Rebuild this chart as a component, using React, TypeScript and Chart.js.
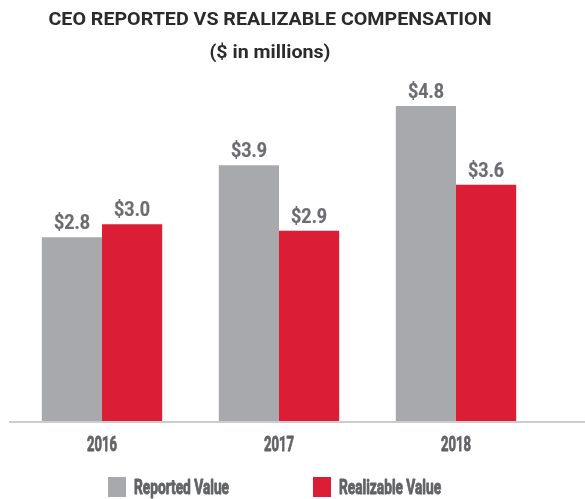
import React, { useEffect, useRef } from "react";
import { Chart, registerables } from "chart.js";

Chart.register(...registerables);

const categories = ["2016", "2017", "2018"];
const seriesNames = ["Reported Value", "Realizable Value"];
const reportedValues = [2.8, 3.9, 4.8];
const realizableValues = [3.0, 2.9, 3.6];
const titleLines = ["CEO REPORTED VS REALIZABLE COMPENSATION", "($ in millions)"];

const GREY = "#a7a9ac";
const RED = "#dc1d36";
const TEXT_GREY = "#626366";
const LABEL_GREY = "#6b6c70";
const TITLE_COLOR = "#2b2b2b";
const FAMILY = "Roboto, 'Liberation Sans', sans-serif";

// draw bold text horizontally condensed so that `refText` would be `refWidth` wide
function condensedText(
  ctx: CanvasRenderingContext2D,
  text: string,
  x: number,
  y: number,
  size: number,
  color: string,
  refText: string,
  refWidth: number,
  align: CanvasTextAlign,
  heavy = 0
) {
  ctx.save();
  ctx.font = `bold ${size}px ${FAMILY}`;
  const sx = refWidth / ctx.measureText(refText).width;
  ctx.fillStyle = color;
  ctx.strokeStyle = color;
  ctx.textBaseline = "alphabetic";
  ctx.textAlign = align;
  ctx.translate(x, y);
  ctx.scale(sx, 1);
  ctx.fillText(text, 0, 0);
  if (heavy > 0) {
    ctx.lineWidth = heavy;
    ctx.lineJoin = "round";
    ctx.strokeText(text, 0, 0);
  }
  ctx.restore();
}

const titlePlugin = {
  id: "condensedTitle",
  afterDraw(chart: any) {
    const ctx = chart.ctx;
    const cx = 270;
    condensedText(ctx, titleLines[0], cx, 25, 19, TITLE_COLOR, titleLines[0], 443, "center");
    condensedText(ctx, titleLines[1], cx, 58, 19, TITLE_COLOR, titleLines[0], 443, "center");
  },
};

const xLabelPlugin = {
  id: "condensedXLabels",
  afterDraw(chart: any) {
    const ctx = chart.ctx;
    const xs = chart.scales.x;
    const y = chart.scales.y.getPixelForValue(0) + 30;
    (chart.data.labels as string[]).forEach((lab, i) => {
      condensedText(ctx, lab, xs.getPixelForValue(i), y, 20, TEXT_GREY, "2016", 30, "center", 0.8);
    });
  },
};

const baselinePlugin = {
  id: "baseline",
  afterDatasetsDraw(chart: any) {
    const ctx = chart.ctx;
    const y = chart.scales.y.getPixelForValue(0);
    ctx.save();
    ctx.strokeStyle = "#cdcdcd";
    ctx.lineWidth = 2;
    ctx.beginPath();
    ctx.moveTo(9, y + 1);
    ctx.lineTo(chart.width, y + 1);
    ctx.stroke();
    ctx.restore();
  },
};

const valueLabelPlugin = {
  id: "valueLabels",
  afterDatasetsDraw(chart: any) {
    const ctx = chart.ctx;
    chart.data.datasets.forEach((ds: any, di: number) => {
      const meta = chart.getDatasetMeta(di);
      meta.data.forEach((el: any, i: number) => {
        const v = ds.data[i] as number;
        condensedText(ctx, "$" + v.toFixed(1), el.x, el.y - 8, 20, LABEL_GREY, "$2.8", 36, "center", 0.2);
      });
    });
  },
};

const legendPlugin = {
  id: "customLegend",
  afterDraw(chart: any) {
    const ctx = chart.ctx;
    const starts = [108, 313];
    const yMid = 487;
    chart.data.datasets.forEach((ds: any, i: number) => {
      const x = starts[i];
      ctx.save();
      ctx.fillStyle = ds.backgroundColor;
      ctx.fillRect(x, yMid - 10, 18, 20);
      ctx.restore();
      condensedText(ctx, ds.label, x + 26, yMid + 7, 20, TEXT_GREY, seriesNames[0], 95, "left", 0.9);
    });
  },
};

export default function App() {
  const canvasRef = useRef<HTMLCanvasElement | null>(null);

  useEffect(() => {
    document.body.style.margin = "0";
    const canvas = canvasRef.current;
    if (!canvas) return;
    const chart = new Chart(canvas, {
      type: "bar",
      data: {
        labels: categories,
        datasets: [
          {
            label: seriesNames[0],
            data: reportedValues,
            backgroundColor: GREY,
            categoryPercentage: 0.68,
            barPercentage: 1.0,
          },
          {
            label: seriesNames[1],
            data: realizableValues,
            backgroundColor: RED,
            categoryPercentage: 0.68,
            barPercentage: 1.0,
          },
        ],
      },
      options: {
        animation: false,
        responsive: false,
        maintainAspectRatio: false,
        layout: {
          padding: { left: 13.5, right: 40.5, top: 93, bottom: 78 },
        },
        plugins: {
          legend: { display: false },
          tooltip: { enabled: false },
          title: { display: false },
        },
        scales: {
          x: {
            display: false,
            grid: { display: false },
          },
          y: {
            display: false,
            min: 0,
            max: 5,
          },
        },
      },
      plugins: [baselinePlugin, valueLabelPlugin, titlePlugin, xLabelPlugin, legendPlugin],
    });
    return () => chart.destroy();
  }, []);

  return (
    <div style={{ width: 585, height: 499 }}>
      <canvas ref={canvasRef} width={585} height={499} style={{ display: "block", width: 585, height: 499 }} />
    </div>
  );
}
